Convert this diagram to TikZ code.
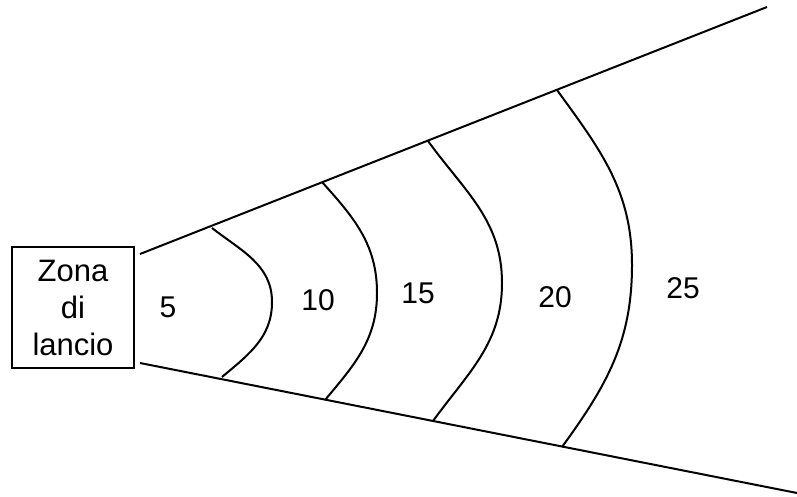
\documentclass[tikz,border=0pt]{standalone}
\usepackage{fontspec}
\setmainfont{Liberation Sans}
\begin{document}
\begin{tikzpicture}[x=1pt,y=-1pt,
  ln/.style={line width=2pt,black},
  zonebox/.style={draw,line width=2pt,minimum width=122pt,minimum height=121pt,inner sep=0pt,align=center,font=\fontsize{31}{37}\selectfont},
  num/.style={font=\fontsize{30}{32}\selectfont,inner sep=0pt}]
\useasboundingbox (0,0) rectangle (797,497);
\fill[white] (0,0) rectangle (797,497);
\node[zonebox] (zona) at (73,307.5) {Zona\\di\\lancio};
\coordinate (u0) at (140,254);
\coordinate (u1) at (767,7);
\coordinate (l0) at (140,363);
\coordinate (l1) at (797,493);
\draw[ln] (u0) -- (u1);
\draw[ln] (l0) -- (l1);
% arcs
\coordinate (a1t) at (212,228); \coordinate (a1m) at (272,302); \coordinate (a1b) at (222,377);
\coordinate (a2t) at (322,182); \coordinate (a2m) at (377,293); \coordinate (a2b) at (325,400);
\coordinate (a3t) at (428,141); \coordinate (a3m) at (502,283); \coordinate (a3b) at (433,421);
\coordinate (a4t) at (557,90); \coordinate (a4m) at (632,265); \coordinate (a4b) at (562,447);
\draw[ln] (a1t) to[out=-38,in=90] (a1m) to[out=-90,in=40] (a1b);
\draw[ln] (a2t) to[out=-48,in=90] (a2m) to[out=-90,in=50] (a2b);
\draw[ln] (a3t) to[out=-54,in=90] (a3m) to[out=-90,in=54] (a3b);
\draw[ln] (a4t) to[out=-54,in=90] (a4m) to[out=-90,in=54] (a4b);
\node[num] (n5) at (168,307) {5};
\node[num] (n10) at (318,300) {10};
\node[num] (n15) at (418,293) {15};
\node[num] (n20) at (555,297) {20};
\node[num] (n25) at (683,288) {25};
\end{tikzpicture}
\end{document}
